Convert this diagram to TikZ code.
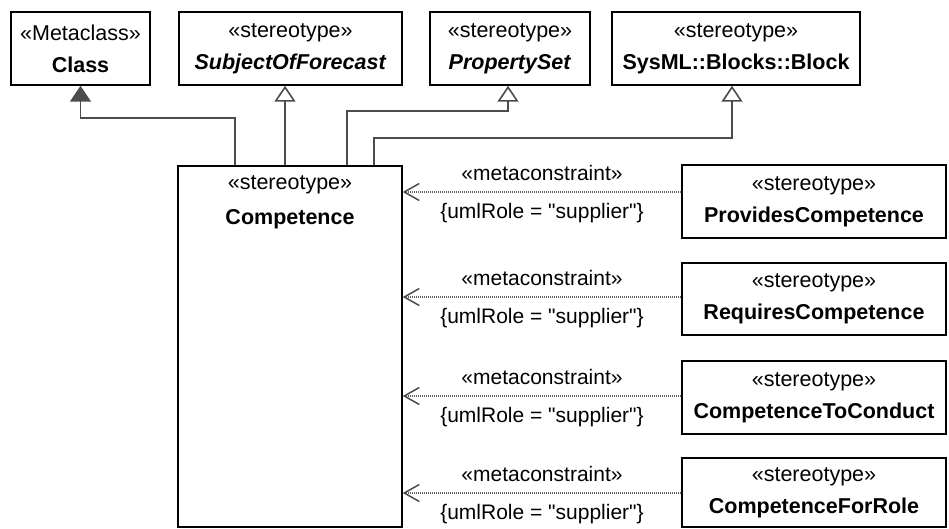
\documentclass[tikz,border=0pt]{standalone}
\usepackage{fontspec}
\newfontfamily\umlfont{Liberation Sans}
\usepackage{tikz}
\usetikzlibrary{positioning, arrows.meta}

\begin{document}
\begin{tikzpicture}[x=1pt, y=1pt,
    umlbox/.style={draw, rectangle, line width=1.5pt, inner sep=0pt, align=center,
      minimum height=73pt, font=\umlfont\fontsize{21.5}{32}\selectfont},
    boxtext/.style={inner sep=0pt, align=center, font=\umlfont\fontsize{21.5}{35}\selectfont},
    genfill/.style={draw=black!70, line width=1.6pt, -{Triangle[length=16pt, width=21pt, fill=black!70]}},
    genopen/.style={draw=black!70, line width=1.6pt, -{Triangle[open, length=16pt, width=21pt, fill=white]}},
    dep/.style={draw=black!62, line width=1.1pt, dash pattern=on 1pt off 1pt,
      -{Straight Barb[length=15pt, width=17pt, line width=1.5pt, color=black!70]}},
    deplabel/.style={inner sep=0pt, font=\umlfont\fontsize{21}{24}\selectfont}]

  \useasboundingbox (0,0) rectangle (949,-529);

  \node[umlbox, minimum width=139pt] (cls) at (80.5,-48.5) {«Metaclass»\\\textbf{Class}};
  \node[umlbox, minimum width=223pt] (subj) at (290.5,-48.5) {«stereotype»\\\textbf{\textit{SubjectOfForecast}}};
  \node[umlbox, minimum width=160pt] (pset) at (510,-48.5) {«stereotype»\\\textbf{\textit{PropertySet}}};
  \node[umlbox, minimum width=248pt] (block) at (736,-48.5) {«stereotype»\\\textbf{SysML::Blocks::Block}};

  \node[umlbox, minimum width=224pt, minimum height=361pt] (comp) at (290,-346.5) {};
  \node[boxtext, below=10pt of comp.north] (comp-txt) {«stereotype»\\\textbf{Competence}};

  \node[umlbox, minimum width=264pt] (prov) at (814,-201.5) {«stereotype»\\\textbf{ProvidesCompetence}};
  \node[umlbox, minimum width=264pt, minimum height=72pt] (req) at (814,-299) {«stereotype»\\\textbf{RequiresCompetence}};
  \node[umlbox, minimum width=264pt] (cond) at (814,-397.5) {«stereotype»\\\textbf{CompetenceToConduct}};
  \node[umlbox, minimum width=264pt, minimum height=69pt] (role) at (814,-492.5) {«stereotype»\\\textbf{CompetenceForRole}};

  \draw[genfill] ([xshift=-55pt]comp.north) |- ([yshift=-32pt]cls.south) -- (cls.south);
  \draw[genopen] ([xshift=-5pt]comp.north) -- ([xshift=-5pt]comp.north |- subj.south);
  \draw[genopen] ([xshift=57pt]comp.north) |- ([xshift=-2pt, yshift=-25pt]pset.south) -- ([xshift=-2pt]pset.south);
  \draw[genopen] ([xshift=84pt]comp.north) |- ([xshift=-4pt, yshift=-52pt]block.south) -- ([xshift=-4pt]block.south);

  \coordinate (d1) at ([yshift=9.5pt]prov.west);
  \coordinate (d2) at ([yshift=2pt]req.west);
  \coordinate (d3) at ([yshift=1.5pt]cond.west);
  \coordinate (d4) at ([yshift=-0.5pt]role.west);
  \foreach \d in {d1, d2, d3, d4} {
    \draw[dep] (\d) -- (\d -| comp.east)
      node[deplabel, midway, yshift=19pt] (\d-stereo) {«metaconstraint»}
      node[deplabel, midway, yshift=-21pt] (\d-role) {\{umlRole = "supplier"\}};
  }
\end{tikzpicture}
\end{document}
